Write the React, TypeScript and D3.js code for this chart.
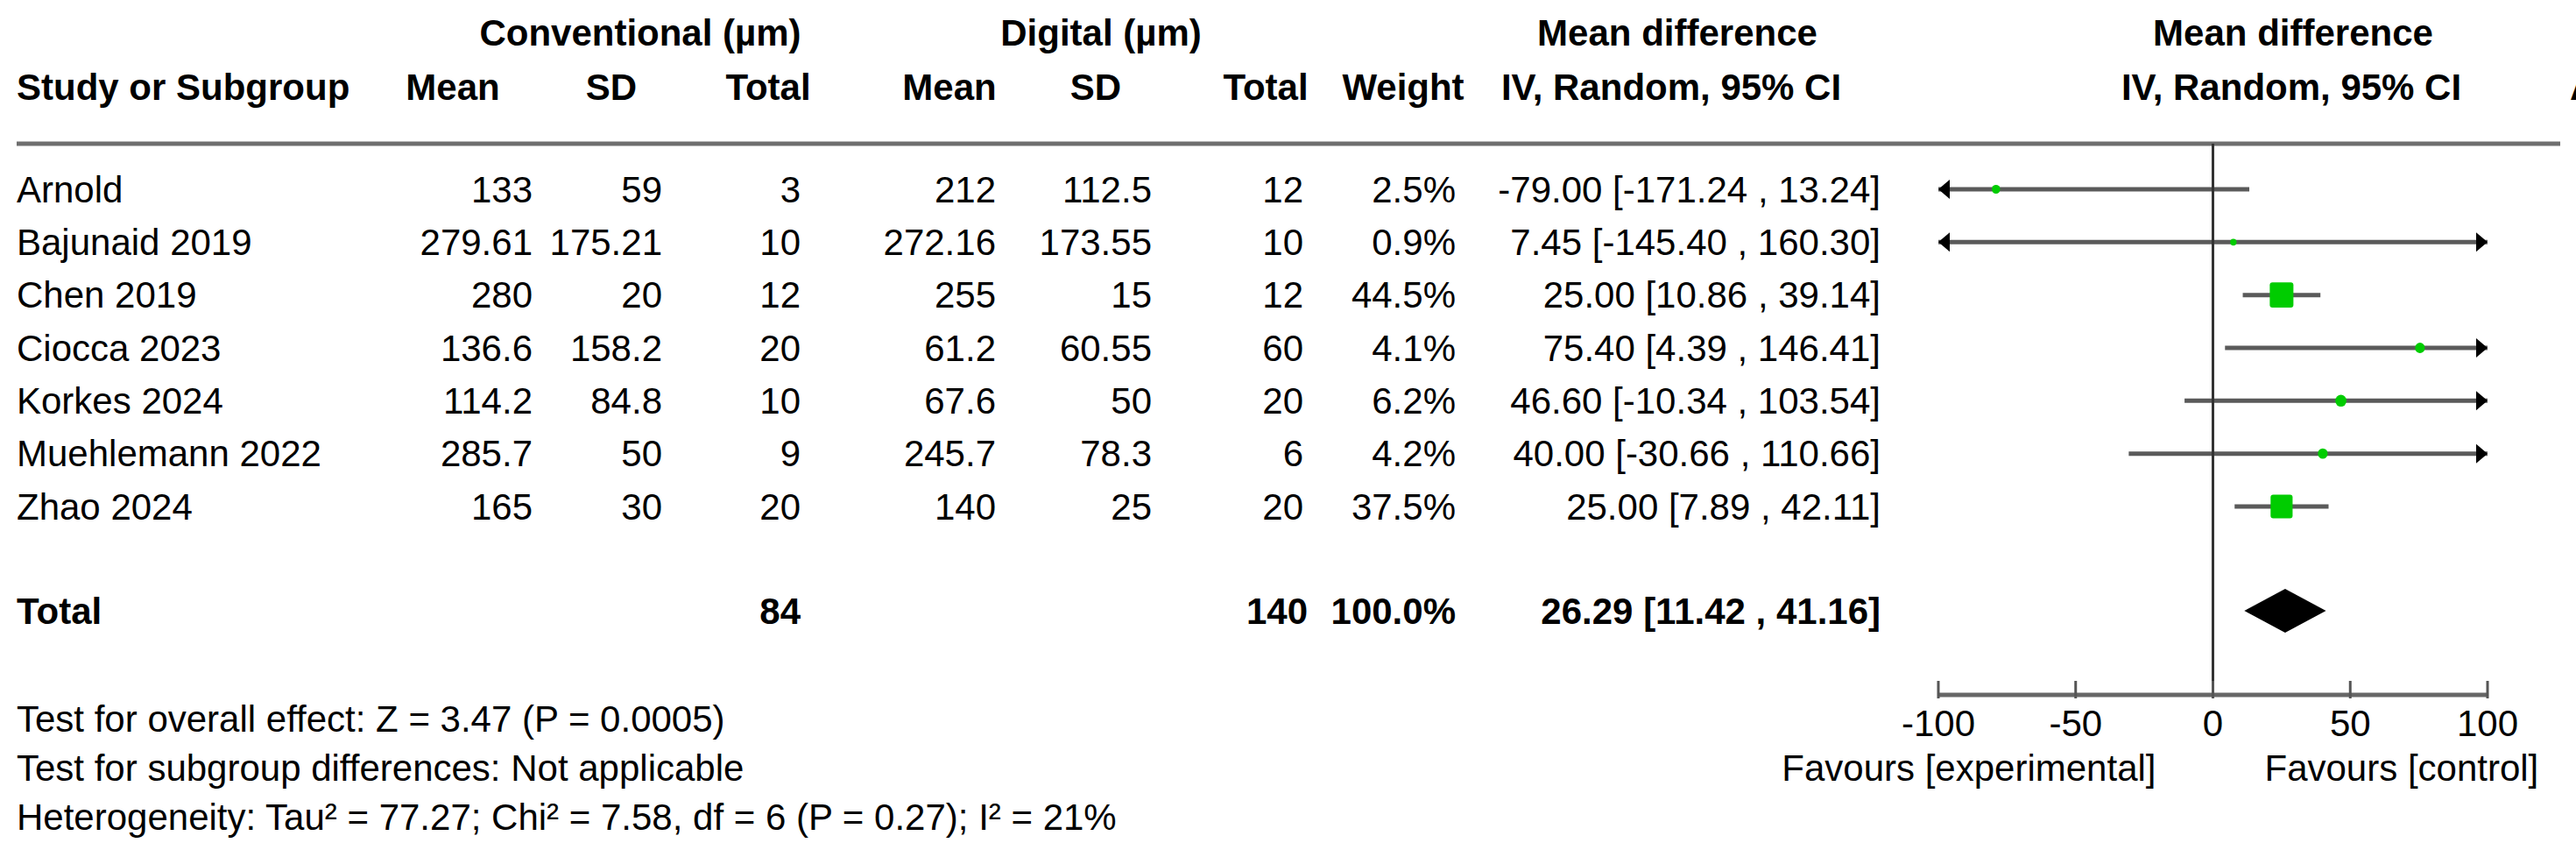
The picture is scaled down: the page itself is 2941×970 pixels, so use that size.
import React from 'react'
import * as d3 from 'd3'

const studies = ['Arnold', 'Bajunaid 2019', 'Chen 2019', 'Ciocca 2023', 'Korkes 2024', 'Muehlemann 2022', 'Zhao 2024']
const convMean = ['133', '279.61', '280', '136.6', '114.2', '285.7', '165']
const convSD = ['59', '175.21', '20', '158.2', '84.8', '50', '30']
const convN = [3, 10, 12, 20, 10, 9, 20]
const digMean = ['212', '272.16', '255', '61.2', '67.6', '245.7', '140']
const digSD = ['112.5', '173.55', '15', '60.55', '50', '78.3', '25']
const digN = [12, 10, 12, 60, 20, 6, 20]
const weights = [2.5, 0.9, 44.5, 4.1, 6.2, 4.2, 37.5]
const md = [-79.0, 7.45, 25.0, 75.4, 46.6, 40.0, 25.0]
const ciLow = [-171.24, -145.4, 10.86, 4.39, -10.34, -30.66, 7.89]
const ciHigh = [13.24, 160.3, 39.14, 146.41, 103.54, 110.66, 42.11]

const totalConvN = 84
const totalDigN = 140
const totalWeight = 100.0
const totalMd = 26.29
const totalLow = 11.42
const totalHigh = 41.16

const axisTicks = [-100, -50, 0, 50, 100]
const footnotes = [
  'Test for overall effect: Z = 3.47 (P = 0.0005)',
  'Test for subgroup differences: Not applicable',
  'Heterogeneity: Tau² = 77.27; Chi² = 7.58, df = 6 (P = 0.27); I² = 21%',
]

const W = 2941
const H = 970
const FONT = "'Liberation Sans', Arial, Helvetica, sans-serif"
const FS = 42

const fmtCI = (m: number, lo: number, hi: number) =>
  `${m.toFixed(2)} [${lo.toFixed(2)} , ${hi.toFixed(2)}]`

export default function App() {
  // right edges of the table columns
  const col = { mean1: 608, sd1: 756, n1: 914, mean2: 1137, sd2: 1315, n2: 1488, w: 1662, ci: 2147 }

  const x = d3.scaleLinear().domain([-100, 100]).range([2213, 2840])
  const y = d3.scalePoint<string>().domain(studies).range([216, 578])
  const size = d3.scaleSqrt().domain([0, 44.5]).range([4, 27])

  const headerLineY = 164
  const axisY = 793
  const totalY = 697

  const txt = (props: any, s: string | number, bold = false) => (
    <text fontFamily={FONT} fontSize={FS} fontWeight={bold ? 'bold' : 'normal'} fill="#000" dy="0.35em" {...props}>
      {s}
    </text>
  )

  const arrow = (xTip: number, yc: number, dir: number) => {
    const l = 13
    const h = 11
    return <path d={`M${xTip},${yc} L${xTip - dir * l},${yc - h} L${xTip - dir * l},${yc + h} Z`} fill="#000" />
  }

  return (
    <svg width={W} height={H} style={{ position: 'absolute', left: 0, top: 0, display: 'block', background: '#fff' }}>
      {/* group headers */}
      {txt({ x: 731, y: 37, textAnchor: 'middle' }, 'Conventional (µm)', true)}
      {txt({ x: 1257, y: 37, textAnchor: 'middle' }, 'Digital (µm)', true)}
      {txt({ x: 1915, y: 37, textAnchor: 'middle' }, 'Mean difference', true)}
      {txt({ x: 2618, y: 37, textAnchor: 'middle' }, 'Mean difference', true)}

      {txt({ x: 19, y: 99 }, 'Study or Subgroup', true)}
      {txt({ x: 517, y: 99, textAnchor: 'middle' }, 'Mean', true)}
      {txt({ x: 698, y: 99, textAnchor: 'middle' }, 'SD', true)}
      {txt({ x: 877, y: 99, textAnchor: 'middle' }, 'Total', true)}
      {txt({ x: 1084, y: 99, textAnchor: 'middle' }, 'Mean', true)}
      {txt({ x: 1251, y: 99, textAnchor: 'middle' }, 'SD', true)}
      {txt({ x: 1445, y: 99, textAnchor: 'middle' }, 'Total', true)}
      {txt({ x: 1602, y: 99, textAnchor: 'middle' }, 'Weight', true)}
      {txt({ x: 1908, y: 99, textAnchor: 'middle' }, 'IV, Random, 95% CI', true)}
      {txt({ x: 2616, y: 99, textAnchor: 'middle' }, 'IV, Random, 95% CI', true)}
      {txt({ x: 2934, y: 99 }, 'A', true)}

      <line x1={19} x2={2923} y1={headerLineY} y2={headerLineY} stroke="#6e6e6e" strokeWidth={5} />

      {/* study rows */}
      {studies.map((s, i) => {
        const yc = y(s) as number
        const lo = Math.max(ciLow[i], -100)
        const hi = Math.min(ciHigh[i], 100)
        const sz = size(weights[i])
        return (
          <g key={s}>
            {txt({ x: 19, y: yc }, s)}
            {txt({ x: col.mean1, y: yc, textAnchor: 'end' }, convMean[i])}
            {txt({ x: col.sd1, y: yc, textAnchor: 'end' }, convSD[i])}
            {txt({ x: col.n1, y: yc, textAnchor: 'end' }, convN[i])}
            {txt({ x: col.mean2, y: yc, textAnchor: 'end' }, digMean[i])}
            {txt({ x: col.sd2, y: yc, textAnchor: 'end' }, digSD[i])}
            {txt({ x: col.n2, y: yc, textAnchor: 'end' }, digN[i])}
            {txt({ x: col.w, y: yc, textAnchor: 'end' }, `${weights[i].toFixed(1)}%`)}
            {txt({ x: col.ci, y: yc, textAnchor: 'end' }, fmtCI(md[i], ciLow[i], ciHigh[i]))}
            <line x1={x(lo)} x2={x(hi)} y1={yc} y2={yc} stroke="#5a5a5a" strokeWidth={5} />
            {ciLow[i] < -100 && arrow(x(-100), yc, -1)}
            {ciHigh[i] > 100 && arrow(x(100), yc, 1)}
            <rect
              x={x(md[i]) - sz / 2}
              y={yc - (sz * 1.07) / 2}
              width={sz}
              height={sz * 1.07}
              rx={sz < 14 ? sz / 2 : 3}
              fill="#00cc00"
            />
          </g>
        )
      })}

      {/* total row */}
      {txt({ x: 19, y: totalY }, 'Total', true)}
      {txt({ x: col.n1, y: totalY, textAnchor: 'end' }, totalConvN, true)}
      {txt({ x: col.n2 + 5, y: totalY, textAnchor: 'end' }, totalDigN, true)}
      {txt({ x: col.w, y: totalY, textAnchor: 'end' }, `${totalWeight.toFixed(1)}%`, true)}
      {txt({ x: col.ci, y: totalY, textAnchor: 'end' }, fmtCI(totalMd, totalLow, totalHigh), true)}
      <path
        d={`M${x(totalLow)},${totalY} L${x(totalMd)},${totalY - 25} L${x(totalHigh)},${totalY} L${x(totalMd)},${totalY + 25} Z`}
        fill="#000"
      />

      {/* line of no effect */}
      <line x1={x(0)} x2={x(0)} y1={headerLineY} y2={axisY} stroke="#333" strokeWidth={3} />

      {/* axis */}
      <line x1={x(-100)} x2={x(100)} y1={axisY} y2={axisY} stroke="#666" strokeWidth={5} />
      {axisTicks.map(t => (
        <g key={t}>
          <line x1={x(t)} x2={x(t)} y1={axisY - 16} y2={axisY + 4} stroke="#555" strokeWidth={3} />
          {txt({ x: x(t), y: 825, textAnchor: 'middle' }, t)}
        </g>
      ))}
      {txt({ x: x(0) - 65, y: 876, textAnchor: 'end' }, 'Favours [experimental]')}
      {txt({ x: x(0) + 59, y: 876 }, 'Favours [control]')}

      {/* footnotes */}
      {footnotes.map((f, i) => (
        <g key={f}>{txt({ x: 19, y: 820 + i * 56 }, f)}</g>
      ))}
    </svg>
  )
}
